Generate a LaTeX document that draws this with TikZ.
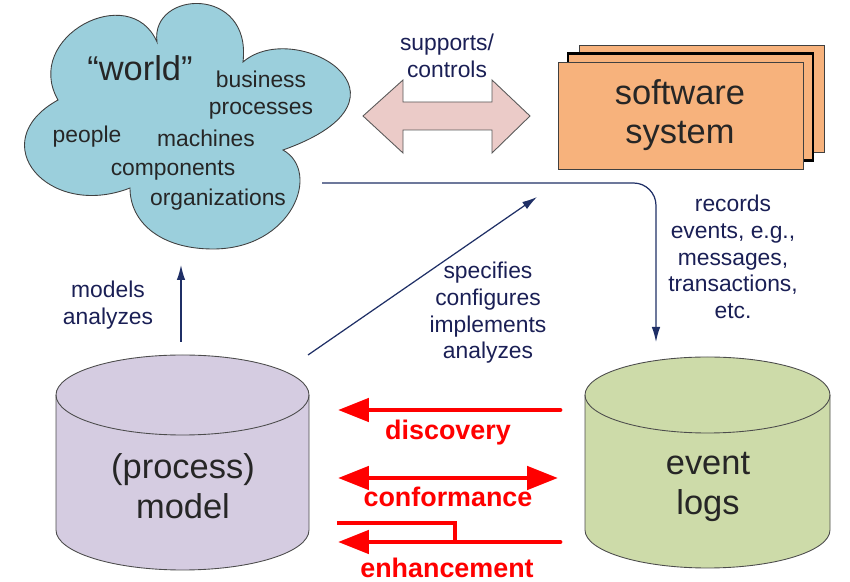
\documentclass[tikz,border=0pt]{standalone}
\usepackage{fontspec}
\setmainfont{Liberation Sans}
\usepackage{xcolor}
\usepackage{tikz}
\usetikzlibrary{arrows.meta,calc}
\definecolor{navyline}{HTML}{1F2F66}
\definecolor{navytext}{HTML}{1A1F55}
\definecolor{cloudblue}{HTML}{9BCFDC}
\definecolor{pinkarrow}{HTML}{EBCBC8}
\definecolor{orangebox}{HTML}{F7B27C}
\definecolor{lilacdb}{HTML}{D5CCE1}
\definecolor{greendb}{HTML}{CDDBA9}
\definecolor{redmain}{HTML}{FF0000}
\tikzset{
  lbl/.style={text=navytext,font=\fontsize{13}{15.2}\selectfont,align=center,inner sep=0pt},
  cloudtxt/.style={text=black!85,font=\fontsize{13}{15}\selectfont,align=center,inner sep=0pt},
  bigtxt/.style={text=black!85,font=\fontsize{19.6}{22.5}\selectfont,align=center,inner sep=0pt},
  redtxt/.style={text=redmain,font=\bfseries\fontsize{15.3}{17}\selectfont,inner sep=0pt},
  swbox/.style={draw=black!75,fill=orangebox,minimum width=4.9cm,minimum height=2.14cm,line width=.5pt},
  dbshape/.style={draw=black!70,line width=.5pt},
  flow/.style={navyline,line width=.7pt,-{Latex[length=.3cm,width=.17cm]}},
  mine/.style={redmain,line width=2.8pt,line cap=round},
  minetip/.style={-{Triangle[length=.62cm,width=.46cm]}}
}

\begin{document}
\begin{tikzpicture}[x=.02cm,y=.02cm]
\useasboundingbox (0,0) rectangle (850,582);
% the world
\draw[draw=black!75,fill=cloudblue,line width=.5pt]
  (58,482) .. controls (22,545) and (130,602) .. (157,540)
  .. controls (150,592) and (252,597) .. (243,520)
  .. controls (295,565) and (432,485) .. (283,432)
  .. controls (322,410) and (292,333) .. (213,333)
  .. controls (160,333) and (130,360) .. (130,394)
  .. controls (48,362) and (-18,440) .. (58,482) -- cycle;
\node[bigtxt] (world) at (140,514) {“world”};
\node[cloudtxt] (business) at (261,487) {business\\processes};
\node[cloudtxt] (people) at (87,445) {people};
\node[cloudtxt] (machines) at (206,444) {machines};
\node[cloudtxt] (components) at (173,412) {components};
\node[cloudtxt] (organizations) at (218,382) {organizations};

% supports / controls
\draw[draw=gray!70!black,fill=pinkarrow,line width=.5pt]
  (363,466) -- (403,502) -- (403,480) -- (492,480) -- (492,502) -- (530,466)
  -- (492,429) -- (492,452) -- (403,452) -- (403,429) -- cycle;
\node[lbl] (supports) at (447,526) {supports/\\controls};

% software system
\node[swbox] (sw3) at (701.5,483) {};
\node[swbox,line width=1.4pt,draw=black] (sw2) at (690.5,475) {};
\node[swbox] (sw) at (680.5,466.5) {};
\node[bigtxt] (swtext) at (680,467) {software\\system};

% databases
\draw[dbshape,fill=lilacdb] (56,187) -- (56,52)
  arc[start angle=180,end angle=360,x radius=126.5,y radius=40] -- (309,187)
  arc[start angle=0,end angle=180,x radius=126.5,y radius=40] -- cycle;
\draw[dbshape] (56,187) arc[start angle=180,end angle=360,x radius=126.5,y radius=40];
\node[bigtxt] (model) at (183,96) {(process)\\model};

\draw[dbshape,fill=greendb] (585,187) -- (585,52)
  arc[start angle=180,end angle=360,x radius=122.5,y radius=38] -- (830,187)
  arc[start angle=0,end angle=180,x radius=122.5,y radius=38] -- cycle;
\draw[dbshape] (585,187) arc[start angle=180,end angle=360,x radius=122.5,y radius=38];
\node[bigtxt] (logs) at (708,95) {event\\logs};

% blue connectors
\coordinate (modeltop) at (181,240);
\coordinate (worldlow) at (181,317);
\coordinate (specstart) at (308,227);
\coordinate (specend) at (537,385);
\coordinate (recstart) at (322,399);
\coordinate (recend) at (656,240);
\draw[flow] (modeltop) -- (worldlow);
\draw[flow] (specstart) -- (specend);
\draw[flow,rounded corners=.45cm] (recstart) -| (recend);
\node[lbl] (models) at (108,277) {models\\analyzes};
\node[lbl] (specifies) at (488,269) {specifies\\configures\\implements\\analyzes};
\node[lbl] (records) at (733,325) {records\\events, e.g.,\\messages,\\transactions,\\etc.};

% process mining
\coordinate (discR) at (560,172); \coordinate (discL) at (338,172);
\coordinate (confR) at (558,104); \coordinate (confL) at (338,104);
\coordinate (enhR) at (560,40);  \coordinate (enhL) at (338,40);
\coordinate (enhU) at (337,59);  \coordinate (enhK) at (455,59);
\draw[mine,minetip] (discR) -- (discL);
\draw[mine,{Triangle[length=.62cm,width=.46cm]}-{Triangle[length=.62cm,width=.46cm]}] (confL) -- (confR);
\draw[mine,minetip] (enhR) -- (enhL);
\draw[mine,line join=miter,line cap=butt] (enhU) -- (enhK) -- (enhK |- enhR);
\node[redtxt] (discovery) at (448,149) {discovery};
\node[redtxt] (conformance) at (448,85) {conformance};
\node[redtxt] (enhancement) at (447,14) {enhancement};
\end{tikzpicture}
\end{document}
